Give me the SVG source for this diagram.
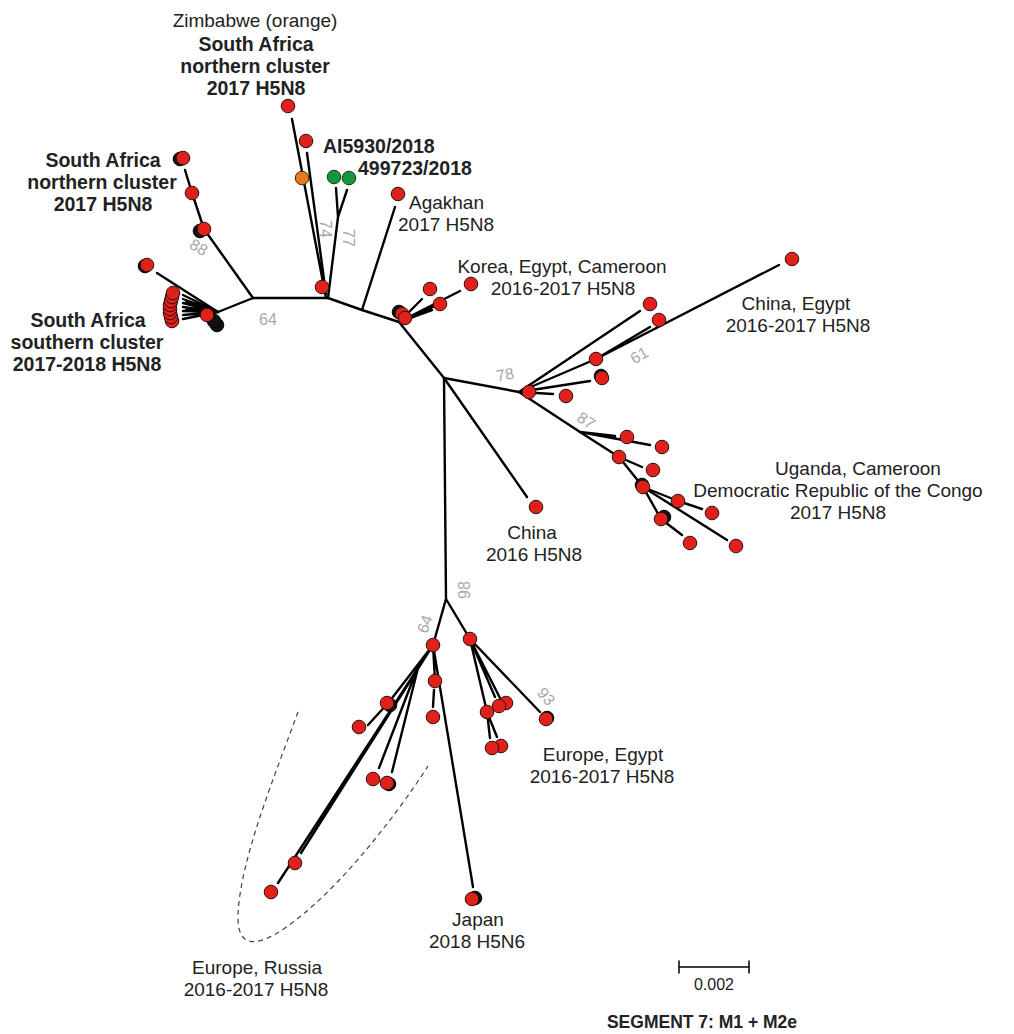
<svg xmlns="http://www.w3.org/2000/svg" width="1014" height="1034" viewBox="0 0 1014 1034">
<defs>
<style>
.br{stroke:#000;stroke-width:2.4;fill:none;stroke-linecap:round;stroke-linejoin:round}
.r{fill:#e0201b;stroke:#2a1010;stroke-width:1}
.g{fill:#14963c;stroke:#1a3a1a;stroke-width:1}
.o{fill:#e87a1e;stroke:#3a2a10;stroke-width:1}
.k{fill:#111;stroke:#000;stroke-width:1}
.t{font-family:"Liberation Sans",Arial,sans-serif;font-size:19px;fill:#222;text-anchor:middle}
.b{font-weight:bold;font-size:19.5px}
.bs{font-family:"Liberation Sans",Arial,sans-serif;font-size:16px;fill:#a8a8a8;text-anchor:middle}
.ds{stroke:#444;stroke-width:1.2;fill:none;stroke-dasharray:5,4}
</style>
</defs>
<rect width="1014" height="1034" fill="#fff"/>
<g id="connectors">
<path class="br" d="M253,298 L328,298 L362,310 L399,322 L444,378 L446,599"/>
<path class="br" d="M253,298 L218,312"/>
<path class="br" d="M253,298 L204,229 L192,193 L185,170"/>
<path class="br" d="M218,312 L157,273"/>
<path class="br" d="M218,312 L183,295 M218,312 L183,299 M218,312 L183,303 M218,312 L183,307 M218,312 L183,311 M218,312 L183,315 M218,312 L183,319 M218,312 L186,301 M218,312 L186,309"/>
<path class="br" d="M326,298 L292,119 M326,294 L307,153 M328,298 L338,217 L336,188 M338,217 L347,190"/>
<path class="br" d="M362,310 L395,207"/>
<path class="br" d="M399,322 L422,299 M399,322 L435,306 M399,322 L432,310 M399,322 L460,291"/>
<path class="br" d="M444,378 L527,497"/>
<path class="br" d="M444,378 L519,392 L580,432 L619,457 L643,487 L727,540"/>
<path class="br" d="M519,392 L640,311 M519,392 L596,359 L779,265 M596,359 L650,327 M519,392 L590,381 M519,392 L553,394"/>
<path class="br" d="M580,432 L615,436 M580,432 L650,445 M619,457 L642,467 M643,487 L678,501 L702,509 M643,487 L661,519 L682,535"/>
<path class="br" d="M446,599 L433,645 M446,599 L470,639"/>
<path class="br" d="M433,645 L389,702 M389,702 L368,725 M433,645 L278,883 M433,645 L301,853 M433,645 L419,664 L379,768 M419,664 L392,772 M433,645 L435,681 M434,690 L433,707 M433,645 L473,887"/>
<path class="br" d="M470,639 L495,697 M470,639 L500,698 M470,639 L487,712 L490,738 M487,712 L497,737 M470,639 L540,712"/>
<path class="ds" d="M298,712 C275,775 240,860 238,915 C237,948 256,948 285,928 C340,890 400,810 428,766"/>
<path class="br" d="M679,967 L749,967 M679,961 L679,973 M749,961 L749,973" style="stroke-width:1.5"/>
</g>
<g id="nodes">
<g id="sa-north-top">
<circle class="r" cx="288" cy="106" r="6.8"/>
<circle class="r" cx="306" cy="141" r="6.8"/>
<circle class="o" cx="302" cy="178" r="6.8"/>
<circle class="r" cx="322" cy="287" r="6.8"/>
</g>
<g id="ai5930">
<circle class="g" cx="334" cy="177" r="6.8"/>
<circle class="g" cx="349" cy="178" r="6.8"/>
</g>
<g id="sa-north-left">
<circle class="k" cx="180" cy="159" r="6.8"/>
<circle class="r" cx="183" cy="158" r="6.8"/>
<circle class="r" cx="192" cy="193" r="6.8"/>
<circle class="k" cx="200" cy="231" r="6.8"/>
<circle class="r" cx="204" cy="229" r="6.8"/>
</g>
<g id="sa-south">
<circle class="k" cx="145" cy="266" r="6.8"/>
<circle class="r" cx="147" cy="265" r="6.8"/>
<circle class="k" cx="217" cy="325" r="6.8"/>
<circle class="k" cx="214" cy="321" r="6.8"/>
<circle class="r" cx="172" cy="321" r="6.8"/>
<circle class="r" cx="171" cy="317" r="6.8"/>
<circle class="r" cx="170" cy="313" r="6.8"/>
<circle class="r" cx="170" cy="309" r="6.8"/>
<circle class="r" cx="170" cy="305" r="6.8"/>
<circle class="r" cx="171" cy="301" r="6.8"/>
<circle class="r" cx="172" cy="297" r="6.8"/>
<circle class="r" cx="173" cy="293" r="6.8"/>
<circle class="r" cx="207" cy="315" r="6.8"/>
</g>
<g id="agakhan">
<circle class="r" cx="398" cy="194" r="6.8"/>
</g>
<g id="korea">
<circle class="k" cx="399" cy="312" r="6.8"/>
<circle class="r" cx="402" cy="314" r="6.8"/>
<circle class="r" cx="405" cy="318" r="6.8"/>
<circle class="r" cx="430" cy="289" r="6.8"/>
<circle class="r" cx="440" cy="304" r="6.8"/>
<circle class="r" cx="471" cy="284" r="6.8"/>
</g>
<g id="china-egypt">
<circle class="r" cx="529" cy="392" r="6.8"/>
<circle class="r" cx="650" cy="304" r="6.8"/>
<circle class="r" cx="792" cy="259" r="6.8"/>
<circle class="r" cx="596" cy="359" r="6.8"/>
<circle class="r" cx="659" cy="320" r="6.8"/>
<circle class="k" cx="601" cy="376" r="6.8"/>
<circle class="r" cx="602" cy="378" r="6.8"/>
<circle class="r" cx="566" cy="396" r="6.8"/>
</g>
<g id="uganda">
<circle class="r" cx="627" cy="437" r="6.8"/>
<circle class="r" cx="662" cy="447" r="6.8"/>
<circle class="r" cx="619" cy="457" r="6.8"/>
<circle class="r" cx="653" cy="470" r="6.8"/>
<circle class="k" cx="642" cy="485" r="6.8"/>
<circle class="r" cx="643" cy="487" r="6.8"/>
<circle class="r" cx="678" cy="501" r="6.8"/>
<circle class="r" cx="712" cy="513" r="6.8"/>
<circle class="r" cx="736" cy="546" r="6.8"/>
<circle class="k" cx="664" cy="517" r="6.8"/>
<circle class="r" cx="661" cy="519" r="6.8"/>
<circle class="r" cx="690" cy="543" r="6.8"/>
</g>
<g id="china">
<circle class="r" cx="536" cy="507" r="6.8"/>
</g>
<g id="europe-russia">
<circle class="r" cx="433" cy="645" r="6.8"/>
<circle class="k" cx="390" cy="705" r="6.8"/>
<circle class="r" cx="387" cy="703" r="6.8"/>
<circle class="r" cx="359" cy="727" r="6.8"/>
<circle class="r" cx="435" cy="681" r="6.8"/>
<circle class="r" cx="433" cy="717" r="6.8"/>
<circle class="r" cx="373" cy="779" r="6.8"/>
<circle class="k" cx="389" cy="784" r="6.8"/>
<circle class="r" cx="387" cy="783" r="6.8"/>
<circle class="r" cx="295" cy="863" r="6.8"/>
<circle class="r" cx="271" cy="892" r="6.8"/>
</g>
<g id="japan">
<circle class="k" cx="475" cy="898" r="6.8"/>
<circle class="r" cx="472" cy="899" r="6.8"/>
</g>
<g id="europe-egypt">
<circle class="r" cx="470" cy="639" r="6.8"/>
<circle class="r" cx="506" cy="703" r="6.8"/>
<circle class="r" cx="499" cy="706" r="6.8"/>
<circle class="r" cx="487" cy="712" r="6.8"/>
<circle class="r" cx="501" cy="746" r="6.8"/>
<circle class="r" cx="492" cy="748" r="6.8"/>
<circle class="k" cx="547" cy="718" r="6.8"/>
<circle class="r" cx="546" cy="719" r="6.8"/>
</g>
</g>
<g id="labels">
<text class="t" x="255" y="27">Zimbabwe (orange)</text>
<text class="t b" x="256" y="51">South Africa</text>
<text class="t b" x="255" y="73">northern cluster</text>
<text class="t b" x="256" y="95">2017 H5N8</text>
<text class="t b" x="103" y="167">South Africa</text>
<text class="t b" x="102" y="189">northern cluster</text>
<text class="t b" x="103" y="211">2017 H5N8</text>
<text class="t b" x="88" y="327">South Africa</text>
<text class="t b" x="87" y="349">southern cluster</text>
<text class="t b" x="87" y="371">2017-2018 H5N8</text>
<text class="t b" x="323" y="153" style="text-anchor:start">AI5930/2018</text>
<text class="t b" x="358" y="175" style="text-anchor:start">499723/2018</text>
<text class="t" x="409" y="209" style="text-anchor:start">Agakhan</text>
<text class="t" x="398" y="231" style="text-anchor:start">2017 H5N8</text>
<text class="t" x="562" y="273">Korea, Egypt, Cameroon</text>
<text class="t" x="563" y="295">2016-2017 H5N8</text>
<text class="t" x="796" y="310">China, Egypt</text>
<text class="t" x="798" y="332">2016-2017 H5N8</text>
<text class="t" x="858" y="475">Uganda, Cameroon</text>
<text class="t" x="838" y="497">Democratic Republic of the Congo</text>
<text class="t" x="838" y="519">2017 H5N8</text>
<text class="t" x="532" y="539">China</text>
<text class="t" x="534" y="561">2016 H5N8</text>
<text class="t" x="603" y="761">Europe, Egypt</text>
<text class="t" x="602" y="783">2016-2017 H5N8</text>
<text class="t" x="478" y="926">Japan</text>
<text class="t" x="477" y="948">2018 H5N6</text>
<text class="t" x="257" y="974">Europe, Russia</text>
<text class="t" x="256" y="996">2016-2017 H5N8</text>
<text class="t" x="714" y="990" style="font-size:16px">0.002</text>
<text class="t b" x="702" y="1028" style="font-size:17.5px">SEGMENT 7: M1 + M2e</text>
<text class="bs" transform="translate(196,252) rotate(30)">88</text>
<text class="bs" x="268" y="325">64</text>
<text class="bs" transform="translate(320,229) rotate(90)">74</text>
<text class="bs" transform="translate(343,238) rotate(90)">77</text>
<text class="bs" transform="translate(506,380) rotate(-10)">78</text>
<text class="bs" transform="translate(642,360) rotate(-30)">61</text>
<text class="bs" transform="translate(583,425) rotate(35)">87</text>
<text class="bs" transform="translate(470,590) rotate(-90)">98</text>
<text class="bs" transform="translate(430,626) rotate(-70)">64</text>
<text class="bs" transform="translate(542,700) rotate(50)">93</text>
</g>
</svg>
